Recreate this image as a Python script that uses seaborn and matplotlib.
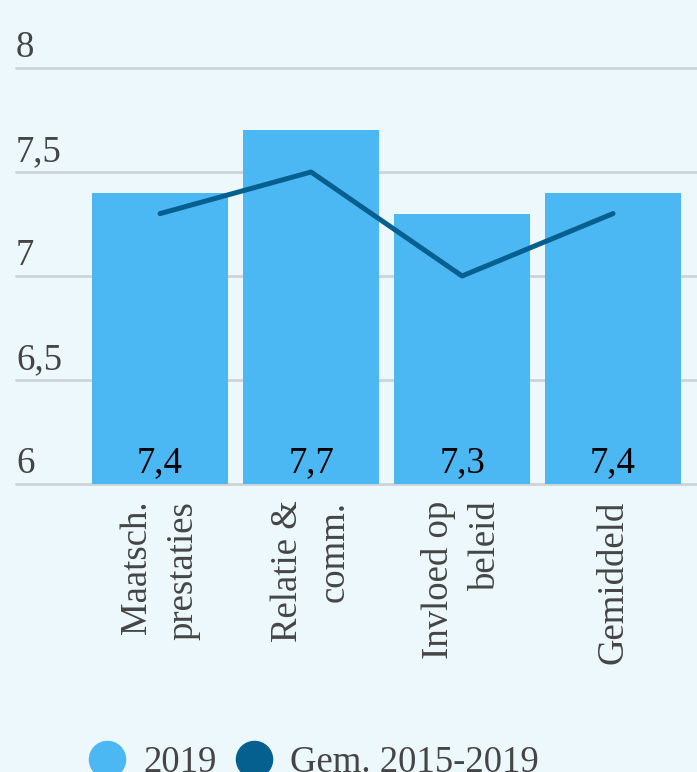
import matplotlib
matplotlib.use("Agg")
import matplotlib.pyplot as plt
from matplotlib.lines import Line2D
import matplotlib.transforms as mtransforms
import seaborn as sns

categories = ["Maatsch.\nprestaties", "Relatie &\ncomm.", "Invloed op\nbeleid", "Gemiddeld"]
values_2019 = [7.4, 7.7, 7.3, 7.4]
values_avg = [7.3, 7.5, 7.0, 7.3]
value_labels = ["7,4", "7,7", "7,3", "7,4"]
yticks = [6, 6.5, 7, 7.5, 8]
ytick_labels = ["6", "6,5", "7", "7,5", "8"]
series_names = ["2019", "Gem. 2015-2019"]

BG = "#edf8fd"
BAR = "#4bb8f4"
LINE = "#06608f"
GRID = "#cdd3d6"
TXT = "#454545"
FONT = ["Liberation Serif", "DejaVu Serif"]
FS = 26.5

sns.set_theme(style="white")
plt.rcParams["font.family"] = FONT

fig = plt.figure(figsize=(6.97, 7.72), dpi=100, facecolor=BG)
ax = fig.add_axes([16 / 697, 288 / 772, 1 - 16 / 697, (704 - 288) / 772])
ax.set_facecolor(BG)

sns.barplot(x=categories, y=values_2019, color=BAR, saturation=1, width=0.9,
            ax=ax, zorder=2, linewidth=0)
sns.pointplot(x=categories, y=values_avg, color=LINE, markers="o", markersize=0,
              linewidth=3.6, errorbar=None, ax=ax, zorder=3)

ax.set_ylim(6, 8)
ax.set_xlim(-0.954, 3.556)
for s in ax.spines.values():
    s.set_visible(False)
ax.grid(False)
for yv in yticks:
    ax.axhline(yv, color=GRID, linewidth=2.0, zorder=0, clip_on=False)

trans = mtransforms.blended_transform_factory(ax.transAxes, ax.transData)
for yv, lab in zip(yticks, ytick_labels):
    ax.text(0.0, yv + 11 / 208, lab, transform=trans, ha="left", va="baseline",
            fontsize=FS, color=TXT, clip_on=False)
ax.set_yticks([])

for i, lab in enumerate(value_labels):
    ax.text(i, 6 + 12 / 208, lab, ha="center", va="baseline", fontsize=FS,
            color="black", zorder=4)

ax.set_xticks(range(len(categories)))
ax.set_xticklabels(categories, rotation=90, ha="center", va="top",
                   fontsize=FS, color=TXT, multialignment="right", linespacing=1.45)
ax.tick_params(axis="x", length=0, pad=12)
ax.set_xlabel("")
ax.set_ylabel("")

handles = [Line2D([], [], marker="o", linestyle="", markersize=26, color=BAR),
           Line2D([], [], marker="o", linestyle="", markersize=26, color=LINE)]
leg = fig.legend(handles, series_names, loc="center", bbox_to_anchor=(0.45, 0.012),
                 ncol=2, frameon=False, fontsize=FS, handletextpad=0.5,
                 columnspacing=0.5, handlelength=1.0, labelcolor=TXT)

fig.savefig("out.png", dpi=100, facecolor=BG)
